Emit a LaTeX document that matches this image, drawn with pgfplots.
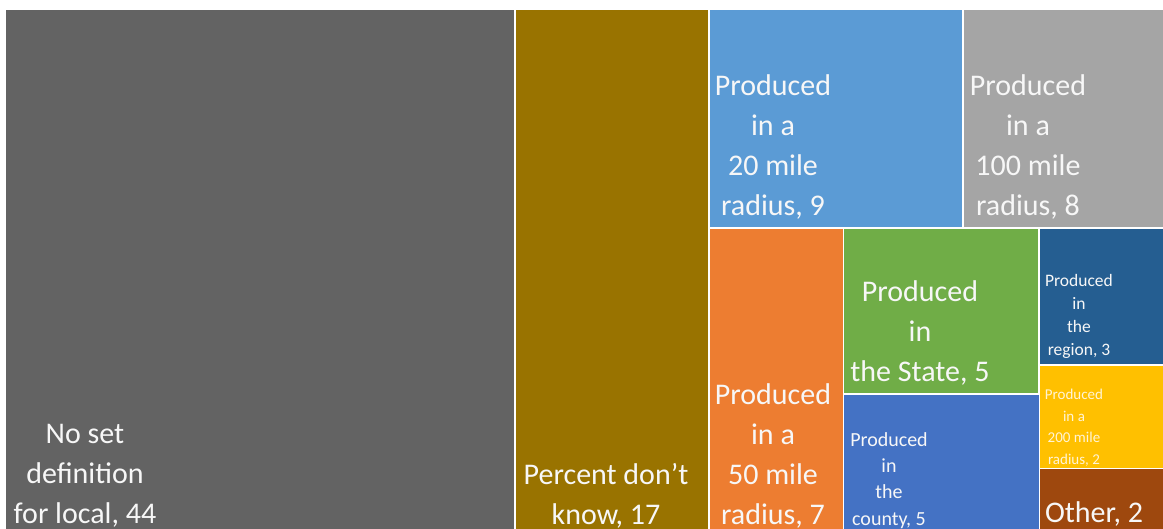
\documentclass[border=0pt]{standalone}
\usepackage{pgfplots}
\pgfplotsset{compat=1.18}
\usepackage{fontspec}
\setmainfont{Carlito}
\definecolor{cA}{HTML}{636363}
\definecolor{cB}{HTML}{997300}
\definecolor{cC}{HTML}{5B9BD5}
\definecolor{cD}{HTML}{A5A5A5}
\definecolor{cE}{HTML}{ED7D31}
\definecolor{cF}{HTML}{70AD47}
\definecolor{cG}{HTML}{4472C4}
\definecolor{cH}{HTML}{255E91}
\definecolor{cI}{HTML}{FFC000}
\definecolor{cJ}{HTML}{9E480E}
\definecolor{tx}{HTML}{F7F7F7}
\definecolor{ty}{HTML}{FFF4D6}
\begin{document}
\begin{tikzpicture}
\begin{axis}[
  width=1163pt, height=529pt, scale only axis,
  xmin=0, xmax=1163, ymin=0, ymax=529, y dir=reverse,
  hide axis, clip=false,
  every axis plot/.append style={draw=none},
]
\addplot[fill=white] coordinates {(0,0) (1163,0) (1163,529) (0,529)} -- cycle;
\addplot[fill=cA] coordinates {(6,10) (514,10) (514,529) (6,529)} -- cycle;
\addplot[fill=cB] coordinates {(516,10) (708,10) (708,529) (516,529)} -- cycle;
\addplot[fill=cC] coordinates {(709.5,10) (961.5,10) (961.5,227) (709.5,227)} -- cycle;
\addplot[fill=cD] coordinates {(963.5,10) (1163,10) (1163,227) (963.5,227)} -- cycle;
\addplot[fill=cE] coordinates {(709.5,229) (842.5,229) (842.5,529) (709.5,529)} -- cycle;
\addplot[fill=cF] coordinates {(844,229) (1038,229) (1038,393.5) (844,393.5)} -- cycle;
\addplot[fill=cG] coordinates {(844,395.5) (1038.5,395.5) (1038.5,529) (844,529)} -- cycle;
\addplot[fill=cH] coordinates {(1040,229) (1163,229) (1163,364) (1040,364)} -- cycle;
\addplot[fill=cI] coordinates {(1040,366) (1163,366) (1163,467.5) (1040,467.5)} -- cycle;
\addplot[fill=cJ] coordinates {(1040,469) (1163,469) (1163,529) (1040,529)} -- cycle;

\tikzset{lab/.style={align=center, text=tx, inner sep=0pt}}
\node[lab, font=\fontsize{30}{40}\selectfont] at (axis cs:85,476) {No set\\definition\\for local, 44};
\node[lab, font=\fontsize{30}{40}\selectfont] at (axis cs:606,496) {Percent don’t\\know, 17};
\node[lab, font=\fontsize{30}{40}\selectfont] at (axis cs:773,147) {Produced\\in a\\20 mile\\radius, 9};
\node[lab, font=\fontsize{30}{40}\selectfont] at (axis cs:1028,147) {Produced\\in a\\100 mile\\radius, 8};
\node[lab, font=\fontsize{30}{40}\selectfont] at (axis cs:773,456) {Produced\\in a\\50 mile\\radius, 7};
\node[lab, font=\fontsize{30}{40}\selectfont] at (axis cs:920,333) {Produced\\in\\the State, 5};
\node[lab, font=\fontsize{20}{26.3}\selectfont] at (axis cs:889,480.5) {Produced\\in\\the\\county, 5};
\node[lab, font=\fontsize{17.5}{23}\selectfont] at (axis cs:1079,316.5) {Produced\\in\\the\\region, 3};
\node[lab, text=ty, font=\fontsize{15}{21.5}\selectfont] at (axis cs:1074,428) {Produced\\in a\\200 mile\\radius, 2};
\node[lab, font=\fontsize{30}{40}\selectfont] at (axis cs:1094,514) {Other, 2};
\end{axis}
\end{tikzpicture}
\end{document}
